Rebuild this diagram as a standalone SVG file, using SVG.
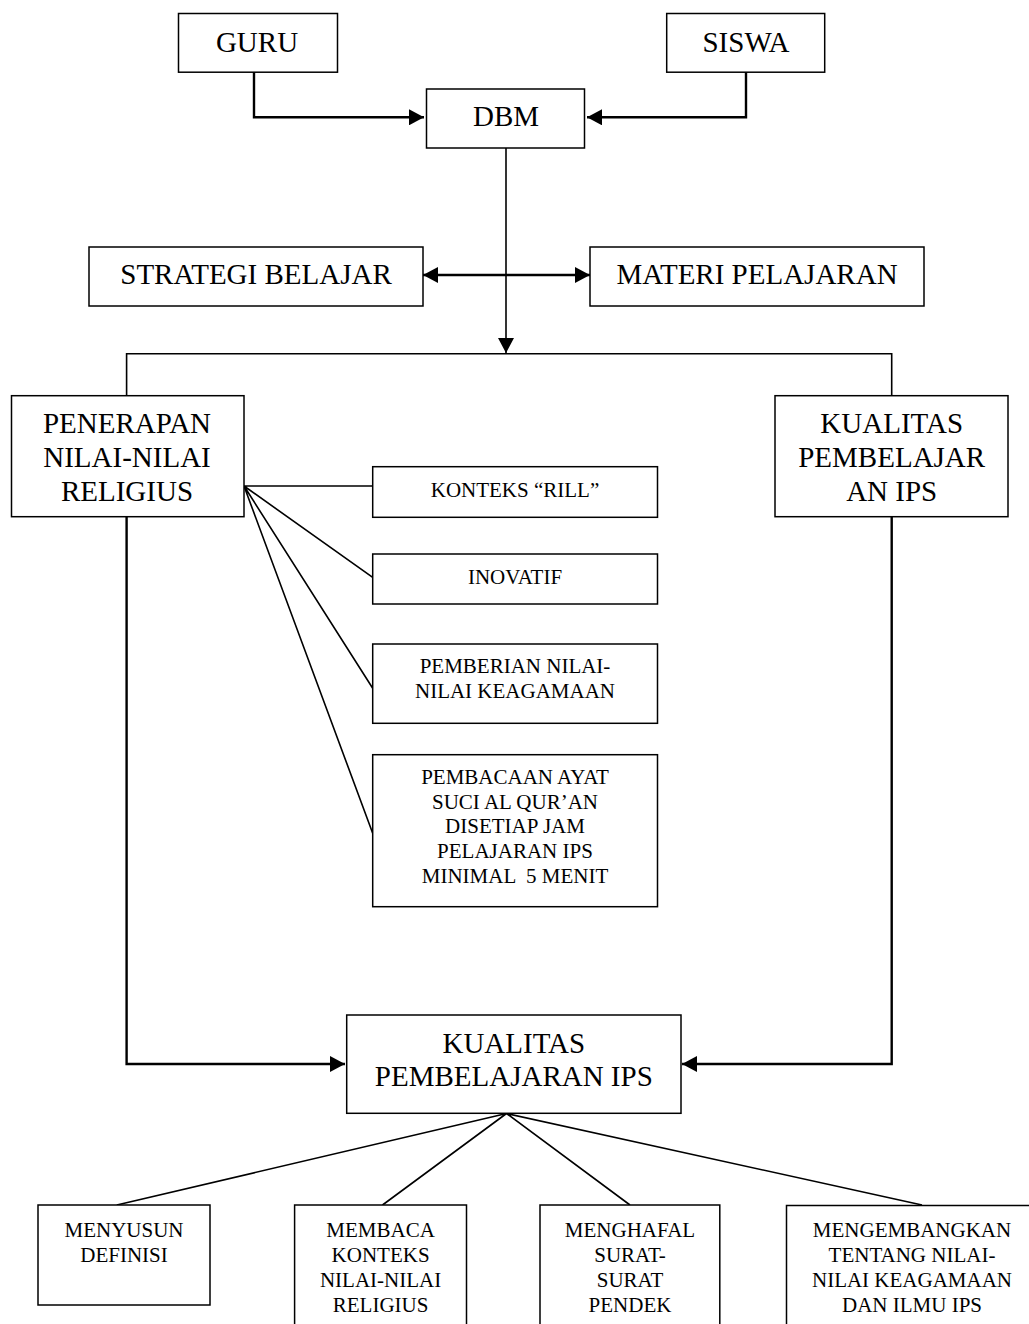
<svg xmlns="http://www.w3.org/2000/svg" width="1029" height="1324" viewBox="0 0 1029 1324">
<style>
.box{fill:#fff;stroke:#000;stroke-width:1.5}
.big{font-family:"Liberation Serif","Times New Roman",serif;font-size:29px;text-anchor:middle;fill:#000}
.sm{font-family:"Liberation Serif","Times New Roman",serif;font-size:21px;text-anchor:middle;fill:#000}
.ln{fill:none;stroke:#000;stroke-width:1.6}
.ar{fill:none;stroke:#000;stroke-width:2.4}
</style>
<defs>
<marker id="ah" viewBox="0 0 15 16" refX="15" refY="8" markerWidth="15" markerHeight="16" markerUnits="userSpaceOnUse" orient="auto-start-reverse"><path d="M0,0 L15,8 L0,16 z" fill="#000"/></marker>
</defs>
<rect width="1029" height="1324" fill="#fff"/>
<g id="connectors">
<path class="ar" d="M254,72 V117.3 H424" marker-end="url(#ah)"/>
<path class="ar" d="M746,72 V117.3 H587" marker-end="url(#ah)"/>
<path class="ln" d="M506,148 V353" marker-end="url(#ah)"/>
<path class="ar" d="M423,275 H590" marker-start="url(#ah)" marker-end="url(#ah)"/>
<path class="ln" d="M126.6,396 V353.7 H891.7 V396"/>
<path class="ar" d="M126.6,517 V1064 H345" marker-end="url(#ah)"/>
<path class="ar" d="M891.7,517 V1064 H682" marker-end="url(#ah)"/>
<path class="ln" d="M244,486 L372.7,486 M244,486 L372.7,577.3 M244,486 L372.7,688.3 M244,486 L372.7,833.3"/>
<path class="ln" d="M506.5,1113.5 L116.8,1205 M506.5,1113.5 L382.5,1205 M506.5,1113.5 L630,1205 M506.5,1113.5 L922,1205"/>
</g>
<g id="guru"><rect class="box" x="178.5" y="13.5" width="159" height="58.7"/><text class="big" x="257" y="51.5">GURU</text></g>
<g id="siswa"><rect class="box" x="666.7" y="13.5" width="158" height="58.7"/><text class="big" x="746" y="51.5">SISWA</text></g>
<g id="dbm"><rect class="box" x="426.5" y="89" width="158" height="59"/><text class="big" x="506" y="126">DBM</text></g>
<g id="strategi"><rect class="box" x="89" y="247" width="334" height="59"/><text class="big" x="256" y="284">STRATEGI BELAJAR</text></g>
<g id="materi"><rect class="box" x="590" y="247" width="334" height="59"/><text class="big" x="757" y="284">MATERI PELAJARAN</text></g>
<g id="penerapan"><rect class="box" x="11.5" y="395.7" width="232.5" height="121"/>
<text class="big" x="127" y="433">PENERAPAN</text><text class="big" x="127" y="467">NILAI-NILAI</text><text class="big" x="127" y="500.5">RELIGIUS</text></g>
<g id="kualitas1"><rect class="box" x="775" y="395.7" width="233" height="121"/>
<text class="big" x="891.7" y="433">KUALITAS</text><text class="big" x="891.7" y="467">PEMBELAJAR</text><text class="big" x="891.7" y="500.5">AN IPS</text></g>
<g id="konteks"><rect class="box" x="372.7" y="466.7" width="284.8" height="50.6"/><text class="sm" x="515" y="497">KONTEKS “RILL”</text></g>
<g id="inovatif"><rect class="box" x="372.7" y="554" width="284.8" height="50"/><text class="sm" x="515" y="584">INOVATIF</text></g>
<g id="pemberian"><rect class="box" x="372.7" y="644" width="284.8" height="79.3"/>
<text class="sm" x="515" y="673.3">PEMBERIAN NILAI-</text><text class="sm" x="515" y="698.3">NILAI KEAGAMAAN</text></g>
<g id="pembacaan"><rect class="box" x="372.7" y="754.7" width="284.8" height="152"/>
<text class="sm" x="515" y="784">PEMBACAAN AYAT</text><text class="sm" x="515" y="808.5">SUCI AL QUR’AN</text><text class="sm" x="515" y="833.3">DISETIAP JAM</text><text class="sm" x="515" y="858.3">PELAJARAN IPS</text><text class="sm" x="515" y="882.7" xml:space="preserve">MINIMAL  5 MENIT</text></g>
<g id="kualitas2"><rect class="box" x="346.7" y="1015" width="334.3" height="98.3"/>
<text class="big" x="513.8" y="1053.3">KUALITAS</text><text class="big" x="513.8" y="1086">PEMBELAJARAN IPS</text></g>
<g id="menyusun"><rect class="box" x="38" y="1205" width="172" height="100"/>
<text class="sm" x="124" y="1236.7">MENYUSUN</text><text class="sm" x="124" y="1261.7">DEFINISI</text></g>
<g id="membaca"><rect class="box" x="294.6" y="1205" width="171.9" height="130"/>
<text class="sm" x="380.6" y="1236.7">MEMBACA</text><text class="sm" x="380.6" y="1261.7">KONTEKS</text><text class="sm" x="380.6" y="1286.7">NILAI-NILAI</text><text class="sm" x="380.6" y="1311.7">RELIGIUS</text></g>
<g id="menghafal"><rect class="box" x="540" y="1205" width="179.8" height="130"/>
<text class="sm" x="630" y="1236.7">MENGHAFAL</text><text class="sm" x="630" y="1261.7">SURAT-</text><text class="sm" x="630" y="1286.7">SURAT</text><text class="sm" x="630" y="1311.7">PENDEK</text></g>
<g id="mengembangkan"><rect class="box" x="786.5" y="1205.5" width="250" height="130"/>
<text class="sm" x="912" y="1236.7">MENGEMBANGKAN</text><text class="sm" x="912" y="1261.7">TENTANG NILAI-</text><text class="sm" x="912" y="1286.7">NILAI KEAGAMAAN</text><text class="sm" x="912" y="1311.7">DAN ILMU IPS</text></g>
</svg>
